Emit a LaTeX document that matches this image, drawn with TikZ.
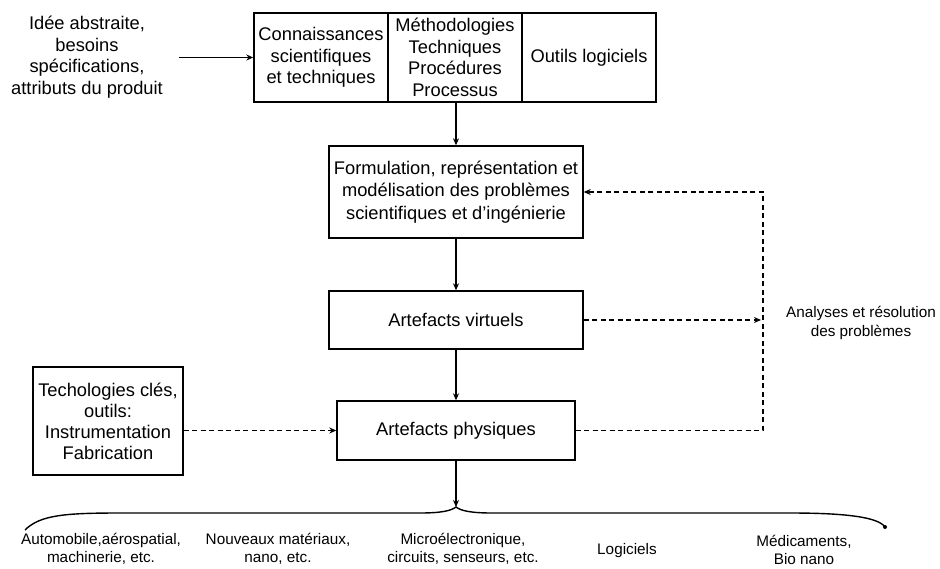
\documentclass[tikz,border=0pt]{standalone}
\usepackage{fontspec}
\setmainfont{Liberation Sans}
\usetikzlibrary{arrows.meta}
\begin{document}
\begin{tikzpicture}[x=1pt,y=-1pt,
  box/.style={draw,line width=1.4pt,align=center,inner sep=0pt,
    font=\fontsize{18.3}{21.5}\selectfont},
  txt/.style={align=center,inner sep=0pt,font=\fontsize{18.3}{21.5}\selectfont},
  small/.style={align=center,inner sep=0pt,font=\fontsize{15.3}{17.5}\selectfont},
  arr/.style={line width=1.4pt,-{Stealth[length=7pt,width=6pt]}},
  darr/.style={arr,dash pattern=on 5pt off 3.5pt}]
\useasboundingbox (0,0) rectangle (940,568);

% input idea
\node[txt] (idea) at (87,57) {Idée abstraite,\\besoins\\spécifications,\\attributs du produit};

% knowledge row
\node[box,minimum width=134pt,minimum height=89pt] (know) at (321,57.5)
  {Connaissances\\scientifiques\\et techniques};
\node[box,minimum width=134pt,minimum height=89pt] (meth) at (455,57.5)
  {Méthodologies\\Techniques\\Procédures\\Processus};
\node[box,minimum width=134pt,minimum height=89pt] (tools) at (589,57.5)
  {Outils logiciels};

% main chain
\node[box,minimum width=254pt,minimum height=92pt,font=\fontsize{18.3}{22.5}\selectfont] (form) at (456,192)
  {Formulation, représentation et\\modélisation des problèmes\\scientifiques et d’ingénierie};
\node[box,minimum width=254pt,minimum height=58pt] (virt) at (456,320) {Artefacts virtuels};
\node[box,minimum width=238pt,minimum height=59pt] (phys) at (456,430.5) {Artefacts physiques};

% key technologies
\node[box,minimum width=150pt,minimum height=108pt,font=\fontsize{18.3}{21}\selectfont] (tech) at (108,421)
  {Techologies clés,\\outils:\\Instrumentation\\Fabrication};

% analysis label
\node[small,font=\fontsize{15.3}{19.5}\selectfont] (analysis) at (861,323) {Analyses et résolution\\des problèmes};

% solid flow
\draw[arr] ([xshift=16pt]idea.east |- know.west) -- (know.west);
\draw[arr] (meth.south -| form.north) -- (form.north);
\draw[arr] (form.south) -- (virt.north);
\draw[arr] (virt.south) -- (phys.north);

% dashed loop
\coordinate (looptop) at (763,192);
\coordinate (vtip) at (761,320);
\draw[darr] (phys.east) -| (looptop) -- (form.east);
\draw[darr] (virt.east) -- (vtip);
\draw[darr] (phys.west -| tech.east) -- (phys.west);

% brace over the application areas
\coordinate (peak) at (456,507);
\coordinate (bl) at (25,530);
\coordinate (br) at (885,527);
\draw[arr] (phys.south) -- (peak);
\draw[line width=1.4pt] (bl) .. controls (40,515) and (65,513) .. (120,513) -- (420,513)
  .. controls (440,513) and (451,511) .. (peak)
  .. controls (461,511) and (472,513) .. (492,513) -- (790,513)
  .. controls (845,513) and (878,517) .. (br);
\fill (br) circle (2pt);

% application areas
\node[small] (auto) at (101,549) {Automobile,aérospatial,\\machinerie, etc.};
\node[small] (mat) at (278,549) {Nouveaux matériaux,\\nano, etc.};
\node[small] (micro) at (463,549) {Microélectronique,\\circuits, senseurs, etc.};
\node[small] (soft) at (627,551) {Logiciels};
\node[small] (med) at (804,550) {Médicaments,\\Bio nano};
\end{tikzpicture}
\end{document}
